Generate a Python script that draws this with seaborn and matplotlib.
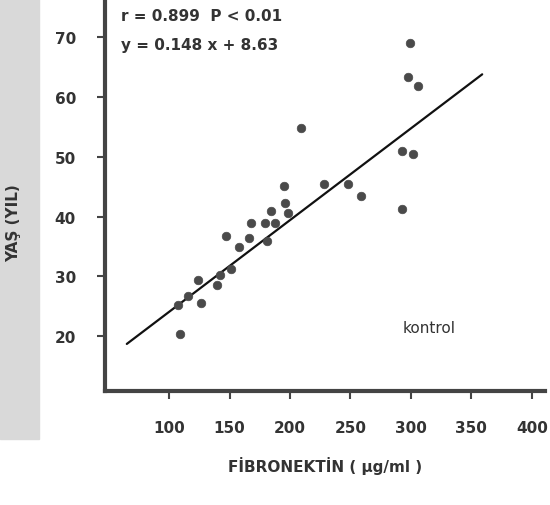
import matplotlib
matplotlib.use("Agg")
import matplotlib.pyplot as plt
import seaborn as sns
import pandas as pd
from matplotlib.patches import Rectangle

# fibronectin (ug/ml) vs age (years)
fibronektin = [109, 107, 116, 126, 124, 140, 142, 151, 147, 158,
               166, 181, 168, 179, 188, 184, 198, 196, 195, 209,
               228, 248, 259, 293, 293, 302, 298, 306, 299]
yas = [20.3, 25.2, 26.7, 25.5, 29.4, 28.5, 30.2, 31.2, 36.7, 34.9,
       36.4, 35.9, 38.9, 38.9, 38.9, 40.9, 40.6, 42.2, 45.2, 54.9,
       45.5, 45.4, 43.4, 41.2, 50.9, 50.5, 63.3, 61.8, 69.0]

# drawn regression line ends
line_x = [65, 359]
line_y = [18.7, 63.8]

x_ticks = [100, 150, 200, 250, 300, 350, 400]
y_ticks = [20, 30, 40, 50, 60, 70]

df = pd.DataFrame({"fib": fibronektin, "yas": yas})
df_line = pd.DataFrame({"fib": line_x, "yas": line_y})

sns.set_style("white")
plt.rcParams["font.family"] = ["DejaVu Sans"]

fig = plt.figure(figsize=(5.5, 5.06), dpi=100)
# grey halftone strip of the scan on the left
fig.patches.append(Rectangle((0, 0.13), 0.07, 0.87, transform=fig.transFigure,
                             color="#d9d9d9", zorder=-1))
ax = fig.add_axes([0.191, 0.225, 0.80, 0.775])

sns.lineplot(data=df_line, x="fib", y="yas", color="#111111", linewidth=1.6, ax=ax)
sns.scatterplot(data=df, x="fib", y="yas", color="#4a4a4a", s=38,
                edgecolor="#4a4a4a", linewidth=0.5, ax=ax, zorder=3)

ax.set_xlim(47, 411)
ax.set_ylim(10.8, 76.4)
ax.set_xticks(x_ticks)
ax.set_yticks(y_ticks)
ax.tick_params(axis="both", direction="out", length=6, width=1.5, color="#444444",
               labelsize=11, pad=15, left=True, bottom=True)
for lab in ax.get_xticklabels() + ax.get_yticklabels():
    lab.set_fontweight("bold")
    lab.set_color("#333333")

for side in ["top", "right"]:
    ax.spines[side].set_visible(False)
for side in ["left", "bottom"]:
    ax.spines[side].set_linewidth(3)
    ax.spines[side].set_color("#444444")

ax.set_xlabel("FİBRONEKTİN ( µg/ml )", fontsize=11, fontweight="bold", color="#333333")
ax.set_ylabel("YAŞ (YIL)", fontsize=11, fontweight="bold", color="#333333")
ax.xaxis.set_label_coords(0.5, -0.165)
ax.yaxis.set_label_coords(-0.19, 0.43)

ax.text(60, 73.6, "r = 0.899  P < 0.01", fontsize=11, fontweight="bold", color="#333333",
        va="center")
ax.text(60, 68.8, "y = 0.148 x + 8.63", fontsize=11, fontweight="bold", color="#333333",
        va="center")
ax.text(315, 21.5, "kontrol", fontsize=11, color="#333333", ha="center", va="center")

fig.savefig("out.png", dpi=100)
